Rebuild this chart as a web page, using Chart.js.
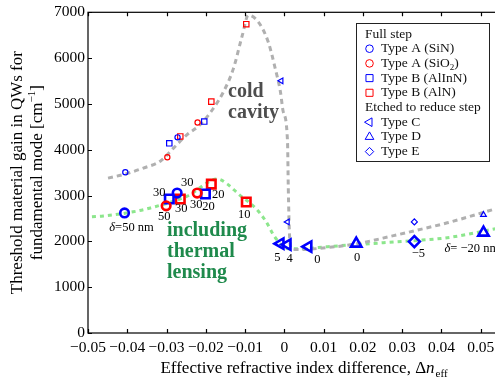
<!DOCTYPE html>
<html>
<head>
<meta charset="utf-8">
<script src="https://cdn.jsdelivr.net/npm/chart.js@4/dist/chart.umd.min.js"></script>
<style>
  html, body { margin: 0; padding: 0; background: #fff; overflow: hidden; }
  #wrap { width: 495px; height: 382px; overflow: hidden; }
</style>
</head>
<body>
<div id="wrap"><canvas id="grafico" width="540" height="382"></canvas></div>
<script>
// Ejes
const xTicks = [-0.05, -0.04, -0.03, -0.02, -0.01, 0, 0.01, 0.02, 0.03, 0.04, 0.05];
const yTicks = [0, 1000, 2000, 3000, 4000, 5000, 6000, 7000];

// Curva de cavidad fría (gris)
const coldCurveX = [-0.0449, -0.0405, -0.0359, -0.0316, -0.0283, -0.0247, -0.0214, -0.0181, -0.0155, -0.013, -0.0107, -0.0092,
  -0.0066, -0.0041, -0.0023, -0.001, -0.0003, 0.0008, 0.001, 0.0013, 0.0018, 0.0033, 0.011, 0.0186, 0.0278, 0.0331, 0.0415, 0.0538];
const coldCurveY = [3380, 3470, 3600, 3750, 4030, 4335, 4550, 4900, 5265, 5765, 6500, 6935,
  6785, 6350, 5765, 5265, 4835, 4185, 3165, 2165, 1840, 1820, 1865, 1950, 2125, 2230, 2405, 2710];

// Curva con lente térmica (verde)
const hotCurveX = [-0.049, -0.0461, -0.0385, -0.0341, -0.0247, -0.017, -0.0145, -0.0117, -0.0074, -0.0048, -0.0023,
  0.001, 0.0041, 0.011, 0.0183, 0.0252, 0.0331, 0.0415, 0.0538];
const hotCurveY = [2540, 2555, 2645, 2730, 2990, 3360, 3250, 3035, 2730, 2450, 2080,
  1840, 1840, 1885, 1930, 1970, 2015, 2080, 2275];

// Cavidad fría (marcadores pequeños)
const coldSiN = [[-0.0405, 3510], [-0.0272, 4270]];
const coldSiO2 = [[-0.0298, 3835], [-0.0221, 4595]];
const coldAlInN = [[-0.0293, 4140], [-0.0204, 4615]];
const coldAlN = [[-0.0265, 4290], [-0.0186, 5050], [-0.0097, 6740]];
const coldTypeC = [[-0.0008, 5505], [0.0008, 2425]];
const coldTypeD = [[0.0507, 2580]];
const coldTypeE = [[0.0331, 2425]];

// Con lente térmica (marcadores grandes) y su delta en nm
const hotSiN = [[-0.0407, 2620], [-0.0273, 3055]];
const hotSiNTags = ["\u03b4=50 nm", "30"];
const hotSiO2 = [[-0.0301, 2775], [-0.0222, 3055]];
const hotSiO2Tags = ["50", "30"];
const hotAlInN = [[-0.0293, 2925], [-0.0201, 3035]];
const hotAlInNTags = ["30", "20"];
const hotAlN = [[-0.0265, 2925], [-0.0186, 3250], [-0.0097, 2860]];
const hotAlNTags = ["30", "20", "10"];
const hotTypeC = [[-0.001, 1950], [0.0008, 1930], [0.0061, 1885]];
const hotTypeCTags = ["5", "4", "0"];
const hotTypeD = [[0.0183, 1950], [0.0507, 2190]];
const hotTypeDTags = ["0", "\u03b4= \u221220 nm"];
const hotTypeE = [[0.0331, 1995]];
const hotTypeETags = ["\u22125"];

const SERIF = '"Liberation Serif", "DejaVu Serif", serif';
const BLUE = "#0000ff";
const RED = "#ff0000";

const toPoints = (pairs) => pairs.map(([x, y]) => ({ x, y }));
const toCurve = (xs, ys) => xs.map((x, i) => ({ x, y: ys[i] }));

const marker = (label, pairs, color, style, radius, width, rotation = 0, extra = {}) => ({
  label,
  data: toPoints(pairs),
  showLine: false,
  borderColor: color,
  backgroundColor: "rgba(0,0,0,0)",
  pointStyle: style,
  pointRadius: radius,
  pointHoverRadius: radius,
  pointBorderWidth: width,
  pointRotation: rotation,
  order: 1,
  ...extra
});

const fmtX = (v) => {
  const r = Math.round(v * 100) / 100;
  if (r === 0) return "0";
  return (r < 0 ? "\u2212" : "") + Math.abs(r).toFixed(2);
};

// Marco con ticks hacia adentro
const frame = {
  id: "frame",
  afterDraw(chart) {
    const { ctx, chartArea: a, scales: { x, y } } = chart;
    ctx.save();
    ctx.strokeStyle = "#000";
    ctx.lineWidth = 1.2;
    ctx.strokeRect(a.left, a.top, a.right - a.left, a.bottom - a.top);
    ctx.beginPath();
    xTicks.forEach(v => {
      const px = Math.round(x.getPixelForValue(v)) + 0.5;
      ctx.moveTo(px, a.bottom); ctx.lineTo(px, a.bottom - 4);
      ctx.moveTo(px, a.top); ctx.lineTo(px, a.top + 4);
    });
    yTicks.forEach(v => {
      const py = Math.round(y.getPixelForValue(v)) + 0.5;
      ctx.moveTo(a.left, py); ctx.lineTo(a.left + 4, py);
      ctx.moveTo(a.right, py); ctx.lineTo(a.right - 4, py);
    });
    ctx.stroke();
    ctx.restore();
  }
};

// Etiquetas de delta junto a cada marcador (la delta va en cursiva)
const tags = {
  id: "tags",
  afterDatasetsDraw(chart) {
    const { ctx } = chart;
    const normal = `12.5px ${SERIF}`;
    const ital = `italic 12.5px ${SERIF}`;
    ctx.save();
    ctx.fillStyle = "#000";
    ctx.textBaseline = "middle";
    chart.data.datasets.forEach((ds, i) => {
      if (!ds.tags) return;
      const meta = chart.getDatasetMeta(i);
      meta.data.forEach((pt, j) => {
        const [dx, dy, align] = ds.tagShift[j];
        const txt = ds.tags[j];
        const head = txt.startsWith("\u03b4") ? "\u03b4" : "";
        const rest = txt.slice(head.length);
        ctx.font = ital; const wh = ctx.measureText(head).width;
        ctx.font = normal; const wr = ctx.measureText(rest).width;
        let x0 = pt.x + dx;
        if ((align || "center") === "center") x0 -= (wh + wr) / 2;
        ctx.textAlign = "left";
        if (head) {
          ctx.font = ital;
          ctx.fillText(head, x0, pt.y + dy);
        }
        ctx.font = normal;
        ctx.fillText(rest, x0 + wh, pt.y + dy);
      });
    });
    ctx.restore();
  }
};

const legendRows = [
  { head: "Full step" },
  { text: "Type A (SiN)", color: BLUE, style: "circle", r: 3.8 },
  { text: "Type A (SiO", sub: "2", tail: ")", color: RED, style: "circle", r: 3.8 },
  { text: "Type B (AlInN)", color: BLUE, style: "rect", r: 5 },
  { text: "Type B (AlN)", color: RED, style: "rect", r: 5 },
  { head: "Etched to reduce step" },
  { text: "Type C", color: BLUE, style: "triangle", r: 5, rot: -90 },
  { text: "Type D", color: BLUE, style: "triangle", r: 5 },
  { text: "Type E", color: BLUE, style: "rectRot", r: 4.2 }
];

const texts = {
  id: "texts",
  afterDraw(chart) {
    const { ctx, chartArea: a } = chart;
    ctx.save();
    ctx.fillStyle = "#000";
    ctx.textBaseline = "alphabetic";

    // Título eje x con subíndice
    const big = `17px ${SERIF}`;
    const ital = `italic 17px ${SERIF}`;
    const small = `11px ${SERIF}`;
    const p1 = "Effective refractive index difference, \u0394";
    ctx.font = big; const w1 = ctx.measureText(p1).width;
    ctx.font = ital; const w2 = ctx.measureText("n").width;
    ctx.font = small; const w3 = ctx.measureText("eff").width;
    let cx = (a.left + a.right) / 2 - (w1 + w2 + w3 + 1) / 2;
    ctx.textAlign = "left";
    ctx.font = big; ctx.fillText(p1, cx, 373); cx += w1;
    ctx.font = ital; ctx.fillText("n", cx, 373); cx += w2 + 1;
    ctx.font = small; ctx.fillText("eff", cx, 377);

    // Título eje y (dos líneas)
    const cy = (a.top + a.bottom) / 2;
    ctx.save();
    ctx.translate(22, cy);
    ctx.rotate(-Math.PI / 2);
    ctx.font = big; ctx.textAlign = "center";
    ctx.fillText("Threshold material gain in QWs for", 0, 0);
    ctx.restore();
    ctx.save();
    ctx.translate(42, cy);
    ctx.rotate(-Math.PI / 2);
    const q1 = "fundamental mode [cm", q2 = "\u22121", q3 = "]";
    ctx.font = big; const v1 = ctx.measureText(q1).width; const v3 = ctx.measureText(q3).width;
    ctx.font = small; const v2 = ctx.measureText(q2).width;
    let sx = -(v1 + v2 + v3) / 2;
    ctx.textAlign = "left";
    ctx.font = big; ctx.fillText(q1, sx, 0); sx += v1;
    ctx.font = small; ctx.fillText(q2, sx, -7); sx += v2;
    ctx.font = big; ctx.fillText(q3, sx, 0);
    ctx.restore();

    // Anotaciones
    ctx.textAlign = "left";
    ctx.font = `bold 20px ${SERIF}`;
    ctx.fillStyle = "#4d4d4d";
    ctx.fillText("cold", 228, 97);
    ctx.fillText("cavity", 228, 118);
    ctx.fillStyle = "#1f8a4c";
    ctx.fillText("including", 167, 236);
    ctx.fillText("thermal", 167, 257);
    ctx.fillText("lensing", 167, 278);

    // Leyenda
    const bx = 356.5, by = 23.5, bw = 133, bh = 138;
    ctx.fillStyle = "#fff";
    ctx.fillRect(bx, by, bw, bh);
    ctx.strokeStyle = "#222";
    ctx.lineWidth = 1;
    ctx.strokeRect(bx, by, bw, bh);
    ctx.textBaseline = "middle";
    const lf = `13.5px ${SERIF}`;
    legendRows.forEach((row, i) => {
      const ry = 34 + i * 14.7;
      ctx.fillStyle = "#111";
      ctx.font = lf;
      if (row.head) {
        ctx.fillText(row.head, 365, ry);
        return;
      }
      ctx.strokeStyle = row.color;
      ctx.fillStyle = "rgba(0,0,0,0)";
      Chart.helpers.drawPoint(ctx, { pointStyle: row.style, radius: row.r, rotation: row.rot || 0, borderWidth: 1.3 }, 369.5, ry);
      ctx.fillStyle = "#111";
      let tx = 381;
      ctx.fillText(row.text, tx, ry);
      if (row.sub) {
        tx += ctx.measureText(row.text).width;
        ctx.font = `9px ${SERIF}`;
        ctx.fillText(row.sub, tx, ry + 4);
        tx += ctx.measureText(row.sub).width;
        ctx.font = lf;
        ctx.fillText(row.tail, tx, ry);
      }
    });
    ctx.restore();
  }
};

const datasets = [
  // cavidad fría
  marker("SiN frío", coldSiN, BLUE, "circle", 2.6, 1.2),
  marker("SiO2 frío", coldSiO2, RED, "circle", 2.6, 1.2),
  marker("AlInN frío", coldAlInN, BLUE, "rect", 3.8, 1.2),
  marker("AlN frío", coldAlN, RED, "rect", 3.8, 1.2),
  marker("C frío", coldTypeC, BLUE, "triangle", 3.3, 1.2, -90),
  marker("D frío", coldTypeD, BLUE, "triangle", 3.3, 1.2),
  marker("E frío", coldTypeE, BLUE, "rectRot", 3, 1.2),
  // con lente térmica
  marker("SiN", hotSiN, BLUE, "circle", 4.3, 2.6, 0, { tags: hotSiNTags, tagShift: [[7, 15], [10, -10]] }),
  marker("SiO2", hotSiO2, RED, "circle", 4.3, 2.6, 0, { tags: hotSiO2Tags, tagShift: [[-2, 11], [-1, 12]] }),
  marker("AlInN", hotAlInN, BLUE, "rect", 6, 2.6, 0, { tags: hotAlInNTags, tagShift: [[-10, -6], [3, 13]] }),
  marker("AlN", hotAlN, RED, "rect", 6, 2.6, 0, { tags: hotAlNTags, tagShift: [[1, 10], [7, 11], [-2, 13]] }),
  marker("Tipo C", hotTypeC, BLUE, "triangle", 6, 2.6, -90, { tags: hotTypeCTags, tagShift: [[-3, 14], [2, 14], [9, 13]] }),
  marker("Tipo D", hotTypeD, BLUE, "triangle", 6, 2.6, 0, { tags: hotTypeDTags, tagShift: [[1, 14], [-39, 16, "left"]] }),
  marker("Tipo E", hotTypeE, BLUE, "rectRot", 5.5, 2.6, 0, { tags: hotTypeETags, tagShift: [[4, 12]] }),
  // curvas
  {
    label: "cold cavity",
    data: toCurve(coldCurveX, coldCurveY),
    showLine: true,
    borderColor: "#b0b0b0",
    borderWidth: 3,
    borderDash: [5, 4],
    pointRadius: 0,
    cubicInterpolationMode: "monotone",
    fill: false,
    order: 5
  },
  {
    label: "thermal lensing",
    data: toCurve(hotCurveX, hotCurveY),
    showLine: true,
    borderColor: "rgb(140, 230, 140)",
    borderWidth: 3,
    borderDash: [4, 4],
    pointRadius: 0,
    cubicInterpolationMode: "monotone",
    fill: false,
    order: 5
  }
];

new Chart(document.getElementById("grafico").getContext("2d"), {
  type: "scatter",
  data: { datasets },
  options: {
    responsive: false,
    animation: false,
    events: [],
    layout: { padding: { top: 10, right: 20, left: 0, bottom: 0 } },
    plugins: { legend: { display: false }, tooltip: { enabled: false } },
    scales: {
      x: {
        type: "linear",
        min: -0.05,
        max: 0.06,
        grid: { display: false, drawTicks: false },
        border: { display: false },
        afterBuildTicks: (scale) => { scale.ticks = xTicks.map(v => ({ value: v })); },
        afterFit: (scale) => { scale.height = 49; },
        ticks: {
          callback: fmtX,
          color: "#000",
          font: { family: SERIF, size: 15.5 },
          padding: 6,
          maxRotation: 0,
          autoSkip: false
        }
      },
      y: {
        type: "linear",
        min: 0,
        max: 7000,
        grid: { display: false, drawTicks: false },
        border: { display: false },
        afterBuildTicks: (scale) => { scale.ticks = yTicks.map(v => ({ value: v })); },
        afterFit: (scale) => { scale.width = 88; },
        ticks: {
          callback: (v) => String(v),
          color: "#000",
          font: { family: SERIF, size: 15.5 },
          padding: 3
        }
      }
    }
  },
  plugins: [frame, tags, texts]
});
</script>
</body>
</html>
